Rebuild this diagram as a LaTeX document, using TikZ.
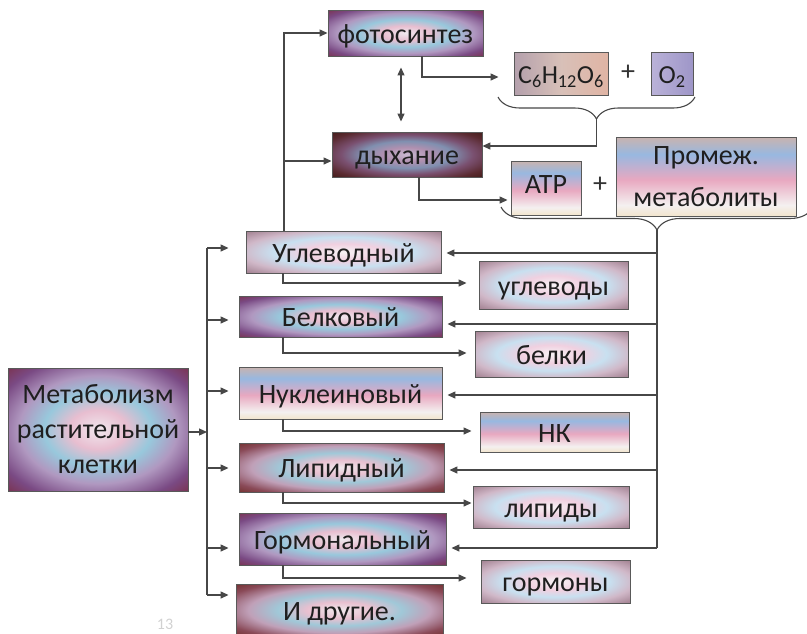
\documentclass[tikz,border=0pt]{standalone}
\usepackage{fontspec}
\setmainfont{Carlito}
\usetikzlibrary{arrows.meta,decorations.pathreplacing}

% dark navy glow
\definecolor{nv0}{HTML}{F0E8EE}\definecolor{nv1}{HTML}{E8BED0}\definecolor{nv2}{HTML}{98C8DC}
\definecolor{nv3}{HTML}{B098C0}\definecolor{nv4}{HTML}{7A4A84}\definecolor{nv5}{HTML}{7A2A3C}
\definecolor{nv6}{HTML}{26285C}\definecolor{nv7}{HTML}{0A0A1C}
% very dark (breath)
\definecolor{dk0}{HTML}{C8B8D0}\definecolor{dk1}{HTML}{B090B0}\definecolor{dk2}{HTML}{8090B0}
\definecolor{dk3}{HTML}{7A5070}\definecolor{dk4}{HTML}{5A2A30}\definecolor{dk5}{HTML}{3A1810}\definecolor{dk6}{HTML}{100808}
% red-brown glow
\definecolor{rd0}{HTML}{F0E8EC}\definecolor{rd1}{HTML}{E8C0D0}\definecolor{rd2}{HTML}{A0C8D8}
\definecolor{rd3}{HTML}{C0A0B8}\definecolor{rd4}{HTML}{8A4A58}\definecolor{rd5}{HTML}{6A2820}
\definecolor{rd6}{HTML}{3A1A18}\definecolor{rd7}{HTML}{1A0808}
% mauve glow
\definecolor{mv0}{HTML}{F6F2F4}\definecolor{mv1}{HTML}{F0D0E0}\definecolor{mv2}{HTML}{C8E0F0}
\definecolor{mv3}{HTML}{D0B8C8}\definecolor{mv4}{HTML}{A88898}\definecolor{mv5}{HTML}{8A6878}\definecolor{mv6}{HTML}{5A4050}
% pastel bands
\definecolor{ps0}{HTML}{B89090}\definecolor{ps1}{HTML}{F0D8A0}\definecolor{ps2}{HTML}{F4F0F0}
\definecolor{ps3}{HTML}{E8A8C0}\definecolor{ps4}{HTML}{98B8E0}\definecolor{ps5}{HTML}{E8B090}\definecolor{ps6}{HTML}{A08AA8}
% horizontal pastel
\definecolor{ph0}{HTML}{9080A0}\definecolor{ph1}{HTML}{D8C0B8}\definecolor{ph2}{HTML}{E8A890}
\definecolor{lv0}{HTML}{9088C0}\definecolor{lv1}{HTML}{C8C0E0}

\pgfdeclareradialshading{glownavy}{\pgfpoint{0bp}{0bp}}{color(0bp)=(nv0); color(8bp)=(nv1); color(15bp)=(nv2); color(22bp)=(nv3); color(30bp)=(nv4); color(38bp)=(nv5); color(46bp)=(nv6); color(72bp)=(nv7)}
\pgfdeclareradialshading{glowdark}{\pgfpoint{0bp}{0bp}}{color(0bp)=(dk0); color(8bp)=(dk1); color(15bp)=(dk2); color(22bp)=(dk3); color(30bp)=(dk4); color(38bp)=(dk5); color(72bp)=(dk6)}
\pgfdeclareradialshading{glowred}{\pgfpoint{0bp}{0bp}}{color(0bp)=(rd0); color(8bp)=(rd1); color(15bp)=(rd2); color(22bp)=(rd3); color(30bp)=(rd4); color(38bp)=(rd5); color(46bp)=(rd6); color(72bp)=(rd7)}
\pgfdeclareradialshading{glowmauve}{\pgfpoint{0bp}{0bp}}{color(0bp)=(mv0); color(10bp)=(mv1); color(18bp)=(mv2); color(26bp)=(mv3); color(34bp)=(mv4); color(44bp)=(mv5); color(72bp)=(mv6)}
\pgfdeclareverticalshading{pastelbands}{100bp}{color(0bp)=(ps0); color(16bp)=(ps1); color(32bp)=(ps2); color(48bp)=(ps3); color(64bp)=(ps4); color(82bp)=(ps5); color(100bp)=(ps6)}
\pgfdeclarehorizontalshading{peachh}{100bp}{color(0bp)=(ph0); color(50bp)=(ph1); color(100bp)=(ph2)}
\pgfdeclarehorizontalshading{lavh}{100bp}{color(0bp)=(lv1); color(100bp)=(lv0)}

\begin{document}
\begin{tikzpicture}[x=1pt,y=-1pt,
  box/.style={draw=black!65, line width=0.9pt, inner sep=0pt, align=center, text=black!88,
    font=\fontsize{28}{35}\selectfont, shade},
  sl/.style={text height=20pt, text depth=0pt},
  con/.style={draw=black!72, line width=1.3pt},
  arr/.style={con, -{Triangle[length=8pt,width=7pt]}},
  brc/.style={draw=black!72, line width=1.1pt, decorate}]
\useasboundingbox (0,0) rectangle (807,633);
\clip (0,0) rectangle (807,633);

% top part
\node[box, sl, shading=glownavy, minimum width=155pt, minimum height=46pt] (photo) at (405.5,33) {фотосинтез};
\node[box, sl, shading=peachh, minimum width=94pt, minimum height=43pt, font=\fontsize{26}{30}\selectfont] (c6) at (561,73.5) {C\textsubscript{6}H\textsubscript{12}O\textsubscript{6}};
\node[font=\fontsize{28}{30}\selectfont, text=black!80] (plus1) at (628,73) {+};
\node[box, sl, shading=lavh, minimum width=42pt, minimum height=43pt, font=\fontsize{26}{30}\selectfont] (o2) at (672,73.5) {O\textsubscript{2}};
\node[box, sl, shading=glowdark, minimum width=150pt, minimum height=45pt] (breath) at (407,154.5) {дыхание};
\node[box, shading=pastelbands, text height=10pt, text depth=0pt, minimum width=70pt, minimum height=54pt] (atp) at (546,188) {ATP};
\node[font=\fontsize{28}{30}\selectfont, text=black!80] (plus2) at (600,185) {+};
\node[box, shading=pastelbands, minimum width=180pt, minimum height=79pt, font=\fontsize{28}{42}\selectfont] (prom) at (706,176.5) {Промеж.\\метаболиты};

% pathways
\node[box, sl, shading=glowmauve, minimum width=195pt, minimum height=42pt] (carb) at (343.5,252) {Углеводный};
\node[box, sl, shading=glownavy, minimum width=203pt, minimum height=41pt] (prot) at (340.5,316.5) {Белковый};
\node[box, sl, shading=pastelbands, minimum width=203pt, minimum height=52pt] (nucl) at (340.5,393) {Нуклеиновый};
\node[box, sl, shading=glowred, minimum width=205pt, minimum height=49pt] (lip) at (341.5,467.5) {Липидный};
\node[box, sl, shading=glownavy, minimum width=207pt, minimum height=52pt] (horm) at (342.5,539) {Гормональный};
\node[box, sl, shading=glowred, minimum width=207pt, minimum height=52pt] (other) at (339.5,610) {И другие.};

% products
\node[box, sl, shading=glowmauve, minimum width=149pt, minimum height=48pt] (carbs) at (553.5,285) {углеводы};
\node[box, sl, shading=glowmauve, minimum width=153pt, minimum height=46pt] (proteins) at (551.5,354) {белки};
\node[box, sl, shading=pastelbands, minimum width=149pt, minimum height=40pt] (nk) at (554.5,432) {НК};
\node[box, sl, shading=glowmauve, minimum width=156pt, minimum height=42pt] (lipids) at (551,507) {липиды};
\node[box, sl, shading=glowmauve, minimum width=149pt, minimum height=43pt] (hormones) at (555.5,581.5) {гормоны};

% main box
\node[box, shading=glownavy, minimum width=180pt, minimum height=123pt] (meta) at (98,429.5) {Метаболизм\\растительной\\клетки};

\node[text=black!18, font=\fontsize{16}{16}\selectfont] (pg) at (165,624) {13};

% helper coordinates
\coordinate (spL) at (207,0);
\coordinate (colB) at (283,0);
\coordinate (colT) at (284,0);
\coordinate (dcol) at (401,0);
\coordinate (pcol) at (422,0);
\coordinate (bcol) at (419,0);
\coordinate (spR) at (657,0);

% top connectors
\draw[arr] (carb.north -| colT) |- (photo.west);
\coordinate (bIn) at ([yshift=-6.5pt]breath.west);
\draw[arr] (bIn -| colT) -- (bIn);
\coordinate (c6In) at ([yshift=-3.5pt]c6.west);
\draw[arr, shorten >=15pt] (photo.south -| pcol) |- (c6In);
\draw[con, {Triangle[length=8pt,width=7pt]}-{Triangle[length=8pt,width=7pt]}, shorten <=11pt, shorten >=10pt] (photo.south -| dcol) -- (breath.north -| dcol);

\coordinate (br1a) at (498,97);
\coordinate (br1b) at (695,97);
\coordinate (br1t) at (596.5,119);
\draw[brc, decoration={brace, mirror, amplitude=22pt}] (br1a) -- (br1b);
\coordinate (bOut) at ([yshift=8.5pt]breath.east);
\draw[arr] (br1t) |- (bOut);

\coordinate (atpIn) at ([yshift=-12pt]atp.west);
\draw[arr, shorten >=3pt] (breath.south -| bcol) |- (atpIn);

\coordinate (br2a) at (501,207);
\coordinate (br2b) at (813,207);
\coordinate (br2t) at (657,230);
\draw[brc, decoration={brace, mirror, amplitude=23pt}] (br2a) -- (br2b);

% right spine
\coordinate (rC) at ([yshift=-1pt]carb.east);
\coordinate (rP) at ([yshift=-7.5pt]prot.east);
\coordinate (rN) at ([yshift=-2pt]nucl.east);
\coordinate (rL) at ([yshift=-2.5pt]lip.east);
\coordinate (rH) at ([yshift=-9pt]horm.east);
\draw[con] (br2t) -- (rH -| spR);
\foreach \c in {rC,rP,rN,rL,rH}{
  \draw[arr, shorten >=5pt] (\c -| spR) -- (\c);
}

% left spine
\coordinate (lC) at ([yshift=4pt]carb.west);
\coordinate (lP) at ([yshift=-3.5pt]prot.west);
\coordinate (lN) at ([yshift=2pt]nucl.west);
\coordinate (lL) at ([yshift=-0.5pt]lip.west);
\coordinate (lH) at ([yshift=-9pt]horm.west);
\coordinate (lO) at ([yshift=15pt]other.west);
\draw[con] (lC -| spL) -- (lO -| spL);
\draw[arr, shorten >=17pt] (lC -| spL) -- (lC);
\draw[arr, shorten >=10pt] (lP -| spL) -- (lP);
\draw[arr, shorten >=10pt] (lN -| spL) -- (lN);
\draw[arr, shorten >=10pt] (lL -| spL) -- (lL);
\draw[arr, shorten >=10pt] (lH -| spL) -- (lH);
\draw[arr, shorten >=7pt] (lO -| spL) -- (lO);
\coordinate (mOut) at ([yshift=-2.5pt]meta.east);
\draw[arr] (mOut) -- (mOut -| spL);

% products connectors
\coordinate (pC) at ([yshift=2pt]carbs.west);
\coordinate (pP) at ([yshift=1pt]proteins.west);
\coordinate (pN) at ([yshift=1pt]nk.west);
\coordinate (pL) at ([yshift=4pt]lipids.west);
\coordinate (pH) at ([yshift=3.5pt]hormones.west);
\draw[arr, shorten >=12pt] (carb.south -| colB) |- (pC);
\draw[arr, shorten >=8pt] (prot.south -| colB) |- (pP);
\draw[arr, shorten >=8pt] (nucl.south -| colB) |- (pN);
\draw[arr, shorten >=1pt] (lip.south -| colB) |- (pL);
\draw[arr, shorten >=14pt] (horm.south -| colB) |- (pH);
\end{tikzpicture}
\end{document}
